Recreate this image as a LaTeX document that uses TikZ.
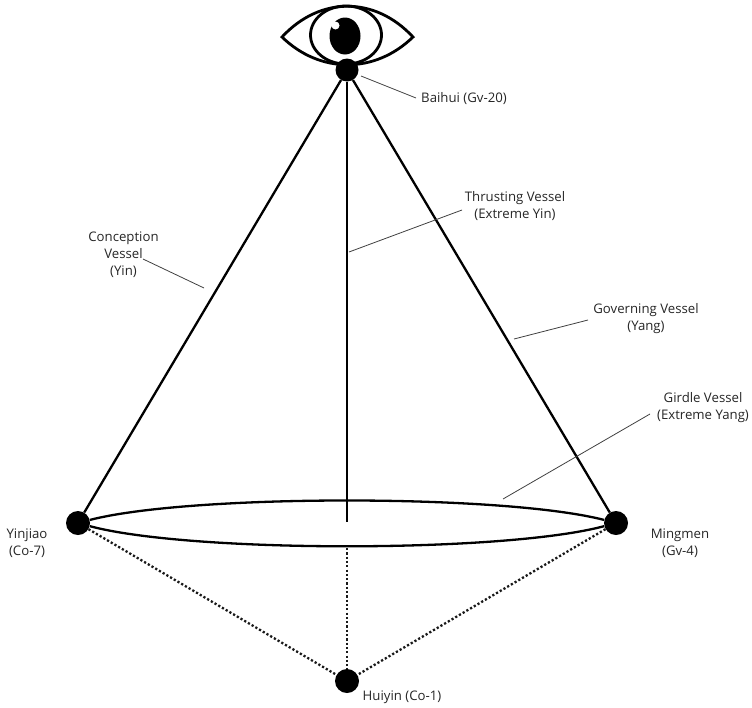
\documentclass[tikz,border=0pt]{standalone}
\usepackage{fontspec}
\setmainfont{Open Sans}
\begin{document}
\begin{tikzpicture}[x=1pt,y=-1pt,
  acupoint/.style={circle,fill=black,draw=none,inner sep=0pt,minimum size=#1},
  vessel/.style={line width=2.3pt,black},
  dotline/.style={line width=2.3pt,black!90,dash pattern=on 2.2pt off 2.1pt},
  leader/.style={line width=0.8pt,black!75},
  lab/.style={font=\fontsize{13.2}{17}\selectfont,text=black!85,align=center,inner sep=0pt}]
\useasboundingbox (0,0) rectangle (752,707);
% eye
\draw[line width=2.8pt,line join=miter] (282,37) .. controls (320,-4) and (375,-4) .. (413,37) .. controls (375,74) and (320,74) .. (282,37) -- cycle;
\draw[line width=2.8pt] (346,35) ellipse (35.5 and 29);
\fill (345,36) ellipse (15.5 and 18.5);
\fill[white] (335.5,25.5) circle (4);
% points
\node[acupoint=23] (baihui) at (347,70) {};
\node[acupoint=24] (yinjiao) at (78,523) {};
\node[acupoint=24] (mingmen) at (616,523) {};
\node[acupoint=24] (huiyin) at (347,681) {};
\coordinate (thrustend) at (347,522);
\coordinate (dotstart) at (347,548);
% vessels
\draw[vessel] (baihui) -- (yinjiao);
\draw[vessel] (baihui) -- (mingmen);
\draw[vessel] (baihui) -- (thrustend);
\draw[vessel] (yinjiao) .. controls (190,494) and (504,494) .. (mingmen);
\draw[vessel] (yinjiao) .. controls (190,553) and (504,553) .. (mingmen);
\draw[dotline] (yinjiao) -- (huiyin);
\draw[dotline] (mingmen) -- (huiyin);
\draw[dotline] (dotstart) -- (huiyin);
% labels
\node[lab] (lbaihui) at (464,98.5) {Baihui (Gv-20)};
\node[lab] (lthrust) at (515,206.5) {Thrusting Vessel\\(Extreme Yin)};
\node[lab] (lconc) at (123.5,254.5) {Conception\\Vessel\\(Yin)};
\node[lab] (lgov) at (646,318.5) {Governing Vessel\\(Yang)};
\node[lab] (lgirdle) at (703,407.5) {Girdle Vessel\\(Extreme Yang)};
\node[lab] (lyinjiao) at (27,543) {Yinjiao\\(Co-7)};
\node[lab] (lmingmen) at (680,543.5) {Mingmen\\(Gv-4)};
\node[lab] (lhuiyin) at (402,697) {Huiyin (Co-1)};
% leaders
\coordinate (a1) at (361,76); \coordinate (a2) at (416,98);
\draw[leader] (a1) -- (a2);
\coordinate (b1) at (349,252); \coordinate (b2) at (462,210);
\draw[leader] (b1) -- (b2);
\coordinate (c1) at (143,259); \coordinate (c2) at (204,288);
\draw[leader] (c1) -- (c2);
\coordinate (d1) at (514,339); \coordinate (d2) at (588,320);
\draw[leader] (d1) -- (d2);
\coordinate (e1) at (503,499); \coordinate (e2) at (650,414);
\draw[leader] (e1) -- (e2);
\end{tikzpicture}
\end{document}
